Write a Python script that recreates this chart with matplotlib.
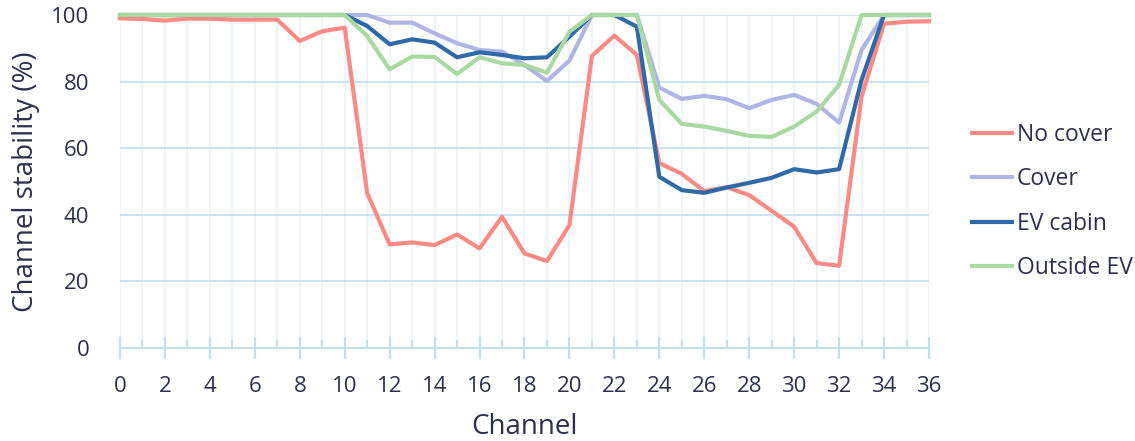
import matplotlib.pyplot as plt
from matplotlib.ticker import MultipleLocator

plt.rcParams['font.family'] = ['Open Sans', 'DejaVu Sans']

channels = list(range(37))
no_cover = [99, 98.8, 98.3, 98.9, 98.9, 98.6, 98.6, 98.6, 92.2, 95.1, 96.2,
            46.5, 31.1, 31.7, 30.9, 34.1, 29.9, 39.4, 28.4, 26.1, 36.9,
            87.7, 93.8, 88.0, 55.5, 52.3, 47.1, 48.3, 45.9, 41.2, 36.4,
            25.5, 24.7, 75.5, 97.4, 98.0, 98.1]
cover = [100, 100, 100, 100, 100, 100, 100, 100, 100, 100, 100,
         100, 97.7, 97.7, 94.5, 91.5, 89.5, 89.0, 85.0, 80.2, 86.3,
         100, 100, 100, 78.2, 74.8, 75.7, 74.7, 72.0, 74.5, 76.0,
         73.3, 67.7, 89.5, 100, 100, 100]
ev_cabin = [100, 100, 100, 100, 100, 100, 100, 100, 100, 100, 100,
            96.7, 91.2, 92.7, 91.7, 87.3, 88.8, 88.0, 87.0, 87.3, 93.5,
            100, 100, 96.5, 51.4, 47.4, 46.6, 48.2, 49.6, 51.1, 53.7,
            52.7, 53.7, 80.5, 100, 100, 100]
outside_ev = [100, 100, 100, 100, 100, 100, 100, 100, 100, 100, 100,
              93.7, 83.7, 87.5, 87.4, 82.3, 87.3, 85.5, 85.0, 82.7, 95.0,
              100, 100, 100, 74.5, 67.3, 66.5, 65.2, 63.7, 63.4, 66.5,
              71.0, 79.0, 100, 100, 100, 100]

text_col = '#2B3050'
grid_col = '#C2DEF2'

fig = plt.figure(figsize=(11.35, 4.41), dpi=100)
ax = fig.add_axes([0.1057, 0.2109, 0.7128, 0.7551])

ax.plot(channels, no_cover, color='#F98A84', lw=3, label='No cover', clip_on=False)
ax.plot(channels, cover, color='#AFB5E5', lw=3, label='Cover', clip_on=False)
ax.plot(channels, ev_cabin, color='#2F69A8', lw=3, label='EV cabin', clip_on=False)
ax.plot(channels, outside_ev, color='#A9D8A3', lw=3, label='Outside EV', clip_on=False)

ax.set_xlim(0, 36)
ax.set_ylim(0, 100)
ax.xaxis.set_major_locator(MultipleLocator(2))
ax.xaxis.set_minor_locator(MultipleLocator(1))
ax.yaxis.set_major_locator(MultipleLocator(20))

ax.grid(which='major', axis='y', color=grid_col, lw=1.2)
ax.grid(which='both', axis='x', color='#EAF3FB', lw=1.2)
ax.set_axisbelow(True)

for s in ['top', 'right', 'left']:
    ax.spines[s].set_visible(False)
ax.spines['bottom'].set_color(grid_col)
ax.spines['bottom'].set_linewidth(1.5)

ax.tick_params(axis='x', which='major', direction='inout', length=16, width=1.5,
               color=grid_col, labelsize=16, labelcolor=text_col, pad=12)
ax.tick_params(axis='x', which='minor', direction='in', length=6, width=1.5, color=grid_col)
ax.tick_params(axis='y', length=0, labelsize=16, labelcolor=text_col, pad=22)

ax.set_xlabel('Channel', fontsize=20, color=text_col, labelpad=12)
ax.set_ylabel('Channel stability (%)', fontsize=20, color=text_col, labelpad=8)

ax.legend(loc='center left', bbox_to_anchor=(1.042, 0.44), frameon=False,
          fontsize=16.5, labelcolor=text_col, handlelength=1.75, handletextpad=0.2,
          labelspacing=0.9, borderaxespad=0)

fig.savefig('out.png', dpi=100)
